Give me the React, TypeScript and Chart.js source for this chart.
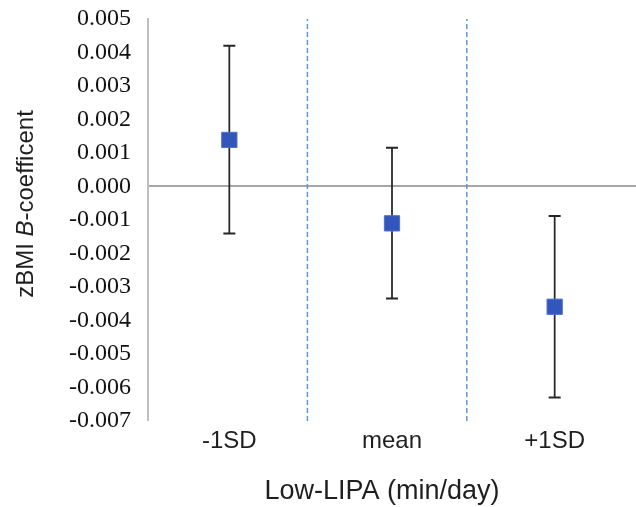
import React, { useEffect, useRef } from "react";
import { Chart, registerables } from "chart.js";

Chart.register(...registerables);

const categories = ["-1SD", "mean", "+1SD"];
const estimates = [0.00139, -0.0011, -0.00359];
const lowerCI = [-0.0014, -0.00334, -0.0063];
const upperCI = [0.0042, 0.00116, -0.00088];
const dividers = [0.48, 1.46];
const yTicks = [0.005, 0.004, 0.003, 0.002, 0.001, 0, -0.001, -0.002, -0.003, -0.004, -0.005, -0.006, -0.007];

const SANS = "'Liberation Sans', Arial, sans-serif";
const SERIF = "'Liberation Serif', 'Times New Roman', serif";

const errorBarPlugin = {
  id: "errorBars",
  beforeDatasetsDraw(chart: any) {
    const ctx = chart.ctx;
    const xs = chart.scales.x;
    const ys = chart.scales.y;
    ctx.save();
    ctx.strokeStyle = "#262626";
    categories.forEach((_, i) => {
      const x = xs.getPixelForValue(i);
      const yl = ys.getPixelForValue(lowerCI[i]);
      const yh = ys.getPixelForValue(upperCI[i]);
      ctx.lineWidth = 1.75;
      ctx.beginPath();
      ctx.moveTo(x, yl);
      ctx.lineTo(x, yh);
      ctx.stroke();
      ctx.lineWidth = 2;
      ctx.beginPath();
      ctx.moveTo(x - 6, yl);
      ctx.lineTo(x + 6, yl);
      ctx.moveTo(x - 6, yh);
      ctx.lineTo(x + 6, yh);
      ctx.stroke();
    });
    ctx.restore();
  },
};

const titlesPlugin = {
  id: "titles",
  afterDraw(chart: any) {
    const ctx = chart.ctx;
    const area = chart.chartArea;
    ctx.save();
    ctx.fillStyle = "#1f1f1f";
    // x title
    ctx.font = `27px ${SANS}`;
    ctx.textAlign = "center";
    ctx.textBaseline = "middle";
    ctx.fillText("Low-LIPA (min/day)", (area.left + area.right) / 2 - 10, 492);
    // y title with italic B
    const parts = [
      { t: "zBMI ", f: `24px ${SANS}` },
      { t: "B", f: `italic 24px ${SANS}` },
      { t: "-coefficent", f: `24px ${SANS}` },
    ];
    let total = 0;
    parts.forEach((p) => {
      ctx.font = p.f;
      total += ctx.measureText(p.t).width;
    });
    ctx.translate(26, 204);
    ctx.rotate(-Math.PI / 2);
    ctx.textAlign = "left";
    let cx = -total / 2;
    parts.forEach((p) => {
      ctx.font = p.f;
      ctx.fillText(p.t, cx, 0);
      cx += ctx.measureText(p.t).width;
    });
    ctx.restore();
  },
};

export default function App() {
  const ref = useRef<HTMLCanvasElement>(null);
  useEffect(() => {
    document.body.style.margin = "0";
    const canvas = ref.current!;
    const dividerSets = dividers.map((d) => ({
      type: "line" as const,
      data: [
        { x: d, y: yTicks[yTicks.length - 1] },
        { x: d, y: yTicks[0] },
      ],
      borderColor: "#5B9BD5",
      borderWidth: 1.5,
      borderDash: [5, 3],
      pointRadius: 0,
      showLine: true,
      fill: false,
      order: 3,
    }));
    const chart = new Chart(canvas, {
      type: "scatter",
      data: {
        datasets: [
          ...dividerSets,
          {
            type: "scatter" as const,
            data: estimates.map((v, i) => ({ x: i, y: v })),
            pointStyle: "rect",
            pointRadius: 10.8,
            pointHoverRadius: 10.8,
            backgroundColor: "#3356BC",
            borderColor: "#4C70CC",
            borderWidth: 1,
            order: 1,
          },
        ] as any,
      },
      options: {
        animation: false,
        responsive: false,
        events: [],
        layout: { autoPadding: false, padding: { top: 19, right: 0, left: 0, bottom: 0 } },
        plugins: { legend: { display: false }, tooltip: { enabled: false } },
        scales: {
          x: {
            type: "linear",
            min: -0.5,
            max: 2.5,
            afterBuildTicks: (scale: any) => {
              scale.ticks = categories.map((_, i) => ({ value: i }));
            },
            afterFit: (scale: any) => {
              scale.height = 86;
              scale.paddingLeft = 0;
              scale.paddingRight = 0;
              scale.paddingTop = 0;
              scale.paddingBottom = 0;
            },
            ticks: {
              callback: (v: any) => categories[Math.round(v)] ?? "",
              font: { family: SANS, size: 24 },
              color: "#1f1f1f",
              padding: 6,
              maxRotation: 0,
              autoSkip: false,
            },
            grid: { display: false, drawTicks: false },
            border: { display: false },
          },
          y: {
            min: yTicks[yTicks.length - 1],
            max: yTicks[0],
            afterBuildTicks: (scale: any) => {
              scale.ticks = yTicks.map((v) => ({ value: v }));
            },
            afterFit: (scale: any) => {
              scale.width = 148;
              scale.paddingLeft = 0;
              scale.paddingRight = 0;
              scale.paddingTop = 0;
              scale.paddingBottom = 0;
            },
            ticks: {
              callback: (v: any) => Number(v).toFixed(3),
              font: { family: SERIF, size: 24 },
              color: "#111111",
              padding: 17,
            },
            grid: {
              drawTicks: false,
              color: (c: any) => (c.tick && Math.abs(c.tick.value) < 1e-9 ? "#A6A6A6" : "rgba(0,0,0,0)"),
              lineWidth: (c: any) => (c.tick && Math.abs(c.tick.value) < 1e-9 ? 2 : 0),
            },
            border: { display: true, color: "#BFBFBF", width: 2 },
          },
        },
      },
      plugins: [errorBarPlugin, titlesPlugin],
    });
    return () => chart.destroy();
  }, []);
  return <canvas ref={ref} width={636} height={507} style={{ display: "block" }} />;
}
